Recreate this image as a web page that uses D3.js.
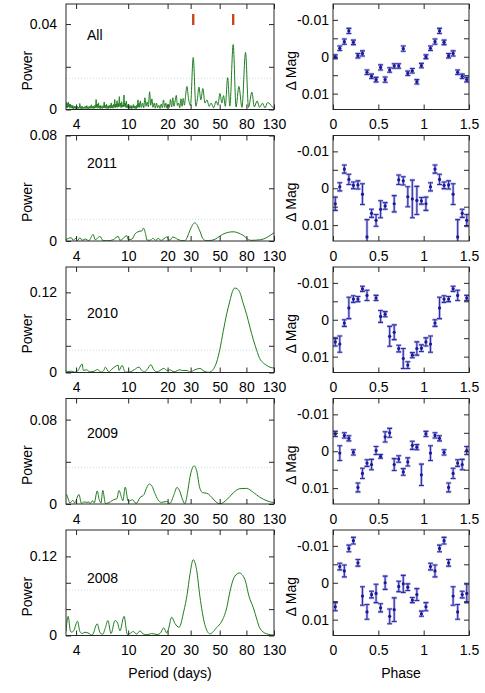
<!DOCTYPE html>
<html>
<head>
<meta charset="utf-8">
<script src="https://cdn.jsdelivr.net/npm/d3@7"></script>
<style>
    body { margin: 0; background: #fff; }
    text { font-family: "Liberation Sans", Arial, Helvetica, sans-serif; fill: #000; }
    .axis text { font-size: 14px; }
</style>
</head>
<body>
<div id="chart"></div>
<script>
// ---- data ----
const rowNames = ['All', '2011', '2010', '2009', '2008'];
const periodTicks = [4, 10, 20, 30, 50, 80, 130];
const phaseTicks = [0, 0.5, 1, 1.5];
const magTicks = [-0.01, -0.005, 0, 0.005, 0.01];
const magLabels = [-0.01, 0, 0.01];
const powerTicks = [[0, 0.02, 0.04], [0, 0.04, 0.08], [0, 0.04, 0.08, 0.12], [0, 0.04, 0.08], [0, 0.04, 0.08, 0.12]];
const powerLabels = [[0, 0.04], [0, 0.08], [0, 0.12], [0, 0.08], [0, 0.12]];
const powerMax = [0.0494, 0.08, 0.158, 0.1, 0.16];
const falseAlarm = [0.0146, 0.0164, 0.0335, 0.0347, 0.069];
const markedPeriods = [31.4, 63.4];

// periodograms: period (days) / power
const allPeriod = [3.35, 3.38, 3.42, 3.45, 3.49, 3.52, 3.56, 3.59, 3.63, 3.67, 3.71, 3.74, 3.78, 3.82, 3.86, 3.90,
    3.94, 3.98, 4.02, 4.06, 4.10, 4.14, 4.19, 4.23, 4.27, 4.32, 4.36, 4.40, 4.45, 4.49, 4.54, 4.59, 4.64, 4.68, 4.73,
    4.78, 4.83, 4.88, 4.93, 4.98, 5.03, 5.08, 5.14, 5.19, 5.24, 5.29, 5.35, 5.40, 5.46, 5.51, 5.57, 5.63, 5.69, 5.75,
    5.81, 5.87, 5.93, 5.99, 6.05, 6.11, 6.17, 6.24, 6.30, 6.37, 6.43, 6.50, 6.56, 6.63, 6.70, 6.77, 6.84, 6.91, 6.98,
    7.05, 7.12, 7.20, 7.27, 7.35, 7.42, 7.50, 7.57, 7.65, 7.73, 7.81, 7.89, 7.97, 8.05, 8.13, 8.22, 8.30, 8.39, 8.47,
    8.56, 8.65, 8.74, 8.83, 8.92, 9.01, 9.10, 9.20, 9.29, 9.39, 9.48, 9.58, 9.68, 9.78, 9.88, 9.98, 10.08, 10.18,
    10.29, 10.4, 10.5, 10.61, 10.72, 10.83, 10.94, 11.05, 11.17, 11.28, 11.4, 11.52, 11.63, 11.75, 11.87, 12.0, 12.12,
    12.25, 12.37, 12.62, 12.88, 13.15, 13.42, 13.7, 13.98, 14.27, 14.57, 14.87, 15.17, 15.49, 15.81, 16.13, 16.47,
    16.8, 17.15, 17.5, 17.87, 18.24, 18.61, 19.0, 19.39, 19.79, 20.2, 20.62, 21.04, 21.48, 21.92, 22.37, 22.84, 23.31,
    23.79, 24.28, 24.78, 25.3, 25.8, 26.3, 26.9, 27.4,
    28.1, 28.9, 29.9, 31.4, 32.9, 33.8, 34.7, 35.9, 37.2, 38.6, 40.0, 41.5, 43, 45, 47, 48.5, 50.2, 52, 53.5, 55.2,
    57.5, 59.8, 63.4, 66.7, 70.1, 74, 78.8, 83, 88.1, 92, 96.5, 101, 106, 111, 116, 121, 126, 130];
const allPower = [0.0036, 0.0010, 0.0030, 0.0008, 0.0034, 0.0012, 0.0026, 0.0006, 0.0024, 0.0008, 0.0020, 0.0005,
    0.0018, 0.0004, 0.0016, 0.0006, 0.0015, 0.0003, 0.0013, 0.0005, 0.0014, 0.0004, 0.0012, 0.0006, 0.0028, 0.0005,
    0.0014, 0.0003, 0.0016, 0.0005, 0.0011, 0.0004, 0.0013, 0.0006, 0.0015, 0.0004, 0.0018, 0.0005, 0.0012, 0.0003,
    0.0014, 0.0006, 0.0017, 0.0005, 0.0022, 0.0007, 0.0015, 0.0004, 0.0016, 0.0006, 0.0020, 0.0008, 0.0047, 0.0009,
    0.0026, 0.0006, 0.0031, 0.0007, 0.0017, 0.0004, 0.0019, 0.0006, 0.0014, 0.0005, 0.0018, 0.0008, 0.0035, 0.0007,
    0.0020, 0.0005, 0.0024, 0.0006, 0.0015, 0.0004, 0.0018, 0.0007, 0.0021, 0.0006, 0.0031, 0.0008, 0.0019, 0.0006,
    0.0024, 0.0010, 0.0047, 0.0009, 0.0026, 0.0011, 0.0041, 0.0010, 0.0028, 0.0012, 0.0060, 0.0014, 0.0030, 0.0009,
    0.0036, 0.0011, 0.0022, 0.0013, 0.0068, 0.0015, 0.0030, 0.0010, 0.0040, 0.0008, 0.0022, 0.0006, 0.0025, 0.0005,
    0.0016, 0.0006, 0.0019, 0.0004, 0.0015, 0.0006, 0.0023, 0.0007, 0.0017, 0.0005, 0.0016, 0.0004, 0.0020, 0.0009,
    0.0045, 0.0011, 0.0030, 0.0010, 0.0040, 0.0010, 0.0030, 0.0008, 0.0055, 0.0015, 0.0035, 0.0012, 0.0083, 0.0020,
    0.0050, 0.0010, 0.0030, 0.0006, 0.0030, 0.0008, 0.0020, 0.0005, 0.0025, 0.0008, 0.0045, 0.0010, 0.0030, 0.0006,
    0.0025, 0.0010, 0.0047, 0.0012, 0.0055, 0.0015, 0.0040, 0.0066, 0.0018, 0.0030, 0.0008, 0.0050, 0.0015, 0.0052,
    0.0020, 0.0060,
    0.0108, 0.0050, 0.0018, 0.0243, 0.0015, 0.0050, 0.0105, 0.0045, 0.0098, 0.0030, 0.0045, 0.0015, 0.0030, 0.0008,
    0.0040, 0.0020, 0.0075, 0.0030, 0.0065, 0.0015, 0.0149, 0.0016, 0.0304, 0.0012, 0.0108, 0.0010, 0.0267, 0.0010,
    0.0081, 0.0012, 0.0040, 0.0010, 0.0030, 0.0008, 0.0032, 0.0026, 0.0012, 0.0005];

const p2011Period = [3.35, 3.67, 3.8, 3.96, 4.1, 4.28, 4.45, 4.7, 5.0, 5.4, 5.6, 5.8, 6.1, 6.4, 7.0, 7.7, 8.4, 8.65,
    9.8, 10.0, 10.7, 11.3, 11.9, 12.3, 12.7, 13.1, 13.6, 13.9, 14.7, 15.4, 16.3, 16.9, 17.9, 19.7, 20.8, 21.9, 24,
    25.6, 27.1, 28.3, 29.6, 32.3, 35.3, 37.1, 39.3, 44.4, 48.2, 52.6, 63.4, 75, 86, 103, 130];
const p2011Power = [0.001, 0.0025, 0.0005, 0.002, 0.0003, 0.0025, 0.0005, 0.0015, 0.0003, 0.005, 0.001, 0.002,
    0.0035, 0.0005, 0.0002, 0.001, 0.0035, 0.0005, 0.004, 0.001, 0.0015, 0.0055, 0.007, 0.0075, 0.0075, 0.0098,
    0.005, 0.0008, 0.0005, 0.002, 0.0005, 0.002, 0.0005, 0.003, 0.0005, 0.003, 0.0012, 0.0003, 0.0002, 0.003, 0.008,
    0.0138, 0.0075, 0.002, 0.0002, 0.0007, 0.0025, 0.005, 0.007, 0.0045, 0.0005, 0.001, 0.0063];

const p2010Period = [3.35, 3.45, 3.67, 3.9, 4.1, 4.45, 4.55, 4.8, 5.1, 5.5, 5.85, 6.2, 6.5, 6.7, 7.1, 7.5, 8.4, 8.5,
    9.0, 9.3, 9.5, 10.3, 11.1, 12.1, 12.6, 13.2, 13.9, 14.9, 15.7, 16.6, 17.5, 18.7, 19.9, 20.8, 22.4, 24.8, 26.1,
    28.2, 29.6, 32.3, 35.3, 38, 40.9, 43, 45.1, 47.4, 50.2, 53.2, 56.6, 59.8, 62.5, 65.3, 68.4, 71.3, 75.2, 80.3,
    85.1, 90.4, 96, 101, 107.6, 114, 121, 130];
const p2010Power = [0.003, 0.0015, 0.002, 0.0005, 0.002, 0.0127, 0.003, 0.004, 0.001, 0.002, 0.0045, 0.0005, 0.003,
    0.0081, 0.001, 0.005, 0.0107, 0.003, 0.0107, 0.004, 0.0005, 0.0008, 0.004, 0.0081, 0.004, 0.001, 0.004, 0.0117,
    0.004, 0.001, 0.003, 0.0061, 0.003, 0.004, 0.001, 0.004, 0.003, 0.003, 0.0005, 0.004, 0.0061, 0.002, 0.0003,
    0.0015, 0.006, 0.0157, 0.035, 0.0614, 0.088, 0.107, 0.121, 0.1265, 0.125, 0.12, 0.105, 0.087, 0.068, 0.049,
    0.033, 0.021, 0.0145, 0.0107, 0.008, 0.0066];

const p2009Period = [3.39, 3.5, 3.59, 3.78, 3.9, 4.2, 4.4, 4.6, 4.85, 5.0, 5.1, 5.35, 5.5, 5.8, 6.0, 6.2, 6.4, 6.7,
    7.3, 7.7, 8.2, 8.5, 8.9, 9.1, 9.5, 10.0, 10.8, 11.5, 12.3, 13.2, 13.8, 14.5, 15.2, 15.9, 16.9, 17.9, 19.7, 20.8,
    22.4, 23.6, 24.8, 25.9, 27.1, 28.5, 29.6, 31.9, 33.6, 35, 37.1, 38.6, 40.9, 43.7, 46.8, 50.2, 56.6, 63.4, 71.3,
    80.3, 90.4, 101, 115, 130];
const p2009Power = [0.0091, 0.004, 0.001, 0.0035, 0.001, 0.0091, 0.0005, 0.002, 0.0015, 0.002, 0.0005, 0.003, 0.001,
    0.0123, 0.0045, 0.001, 0.0129, 0.0005, 0.002, 0.004, 0.005, 0.0129, 0.006, 0.003, 0.016, 0.0025, 0.004, 0.0005,
    0.006, 0.009, 0.015, 0.0189, 0.017, 0.011, 0.004, 0.0015, 0.0025, 0.0005, 0.009, 0.0157, 0.012, 0.005, 0.0002,
    0.012, 0.025, 0.0362, 0.03, 0.0165, 0.0107, 0.0105, 0.0095, 0.006, 0.002, 0.0002, 0.004, 0.0105, 0.0145, 0.0148,
    0.011, 0.0065, 0.003, 0.0012];

const p2008Period = [3.35, 3.48, 3.62, 3.7, 3.85, 4.1, 4.28, 4.45, 4.68, 5.04, 5.3, 5.8, 6.1, 6.4, 6.7, 7.0, 7.4,
    7.93, 8.3, 8.65, 9.3, 9.86, 10.3, 10.96, 11.6, 12.3, 12.9, 13.9, 15.1, 16.6, 17.5, 18.7, 19.7, 20.2, 21.5, 22.8,
    24.5, 26.6, 28.2, 29.6, 31.4, 33.3, 35.3, 38.5, 42.1, 47.4, 51.9, 56.6, 59.8, 63.4, 67.3, 70.4, 77.9, 83.6, 90.4,
    96, 101, 114, 130];
const p2008Power = [0.0066, 0.029, 0.0066, 0.005, 0.008, 0.0217, 0.006, 0.003, 0.005, 0.003, 0.0005, 0.0177, 0.004,
    0.002, 0.012, 0.0227, 0.003, 0.0227, 0.019, 0.007, 0.029, 0.0015, 0.003, 0.006, 0.002, 0.007, 0.003, 0.001, 0.003,
    0.0015, 0.003, 0.0116, 0.004, 0.008, 0.0277, 0.018, 0.0126, 0.0368, 0.062, 0.092, 0.115, 0.1, 0.0595, 0.0166,
    0.0026, 0.012, 0.0217, 0.042, 0.066, 0.0847, 0.093, 0.0948, 0.085, 0.06, 0.042, 0.025, 0.0116, 0.0026, 0.0006];

// phase-folded light curves: 20 bins per cycle, null = empty bin
const phaseBins = [0.025, 0.075, 0.125, 0.175, 0.225, 0.275, 0.325, 0.375, 0.425, 0.475,
    0.525, 0.575, 0.625, 0.675, 0.725, 0.775, 0.825, 0.875, 0.925, 0.975];
const magAll = [0.0, -0.0023, -0.0041, -0.0070, -0.0039, -0.0003, -0.0009, 0.0042, 0.0053, 0.0062,
    0.0029, 0.0062, 0.0036, 0.0025, 0.0025, -0.0022, 0.0045, 0.0038, 0.0068, 0.0024];
const errAll = [0.0005, 0.0006, 0.0007, 0.0007, 0.0006, 0.0006, 0.0007, 0.0006, 0.0006, 0.0006,
    0.0007, 0.0007, 0.0006, 0.0006, 0.0006, 0.0007, 0.0006, 0.0006, 0.0006, 0.0006];
const mag2011 = [0.0042, -0.0004, -0.0052, -0.0024, -0.0008, -0.0009, 0.0016, 0.0132, 0.0068, 0.0087,
    0.0057, 0.0048, null, 0.0042, -0.0023, -0.0020, 0.0023, 0.0029, 0.0033, 0.0034];
const err2011 = [0.0018, 0.0011, 0.0011, 0.0014, 0.0009, 0.0011, 0.0028, 0.0047, 0.0011, 0.0016,
    0.0023, 0.0009, null, 0.0022, 0.0013, 0.0011, 0.0027, 0.0051, 0.0038, 0.0009];
const mag2010 = [0.0060, 0.0066, 0.0009, -0.0032, -0.0056, -0.0056, -0.0084, -0.0066, null, -0.0059,
    -0.0009, -0.0015, 0.0045, 0.0034, 0.0078, 0.0105, 0.0123, 0.0096, 0.0078, 0.0077];
const err2010 = [0.0011, 0.0022, 0.0009, 0.0029, 0.0009, 0.0007, 0.0007, 0.0014, null, 0.0007,
    0.0016, 0.0007, 0.0027, 0.0020, 0.0009, 0.0027, 0.0009, 0.0007, 0.0018, 0.0009];
const mag2009 = [-0.0047, 0.0005, -0.0043, -0.0035, 0.0003, 0.0098, 0.0060, 0.0032, 0.0036, -0.0002,
    0.0014, -0.0039, -0.0050, 0.0036, 0.0021, 0.0056, 0.0029, -0.0016, -0.0011, 0.0064];
const err2009 = [0.0007, 0.0020, 0.0007, 0.0007, 0.0007, 0.0012, 0.0014, 0.0009, 0.0014, 0.0011,
    0.0005, 0.0014, 0.0012, 0.0016, 0.0009, 0.0009, 0.0011, 0.0011, 0.0007, 0.0029];
const mag2008 = [0.0065, -0.0044, -0.0032, -0.0093, -0.0114, -0.0054, 0.0036, 0.0079, 0.0032, 0.0029,
    0.0068, 0.0000, 0.0091, 0.0073, 0.0010, 0.0003, 0.0012, 0.0047, 0.0032, 0.0084];
const err2008 = [0.0011, 0.0009, 0.0016, 0.0009, 0.0009, 0.0009, 0.0025, 0.0020, 0.0009, 0.0025,
    0.0011, 0.0018, 0.0020, 0.0032, 0.0014, 0.0023, 0.0009, 0.0007, 0.0016, 0.0007];

const periods = [allPeriod, p2011Period, p2010Period, p2009Period, p2008Period];
const powers = [allPower, p2011Power, p2010Power, p2009Power, p2008Power];
const mags = [magAll, mag2011, mag2010, mag2009, mag2008];
const errs = [errAll, err2011, err2010, err2009, err2008];

// ---- layout ----
const W = 485, H = 693;
const LEFT_X = [66, 274];
const RIGHT_X = [333, 469];
const ROW_H = 105.5;
const ROW_STEP = 131.5;
const LABEL_DY = [36, 32, 51, 39, 53]; // row label baseline below panel top
const CURVE_COLOR = '#1f7d1f';
const PT_COLOR = '#1a1a96';
const BAR_COLOR = '#2e2ea6';
const HALO_COLOR = '#b4b4e8';
const MARK_COLOR = '#c8461a';
const FRAME_COLOR = '#262626';

const svg = d3.select('#chart')
    .append('svg')
    .attr('width', W)
    .attr('height', H);

const xPeriod = d3.scaleLog().domain([3.35, 130]).range(LEFT_X);
const xPhase = d3.scaleLinear().domain([0, 1.5]).range(RIGHT_X);

function styleAxis(g) {
    g.select('.domain').remove();
    g.attr('font-family', null).attr('font-size', null).attr('color', FRAME_COLOR);
}

// error bar with caps, drawn twice: soft halo then solid stroke
function drawBars(sel, x, y, color, width) {
    sel.append('line')
        .attr('x1', d => x(d.ph)).attr('x2', d => x(d.ph))
        .attr('y1', d => y(d.m - d.e)).attr('y2', d => y(d.m + d.e))
        .attr('stroke', color).attr('stroke-width', width);
    [-1, 1].forEach((s) => {
        sel.append('line')
            .attr('x1', d => x(d.ph) - 2.5).attr('x2', d => x(d.ph) + 2.5)
            .attr('y1', d => y(d.m + s * d.e)).attr('y2', d => y(d.m + s * d.e))
            .attr('stroke', color).attr('stroke-width', width);
    });
}

rowNames.forEach((name, i) => {
    const top = 4 + i * ROW_STEP;
    const bottom = top + ROW_H;
    const g = svg.append('g');

    // ---------- periodogram ----------
    const yPow = d3.scaleLinear().domain([0, powerMax[i]]).range([bottom, top]);

    g.append('clipPath').attr('id', `clipL${i}`)
        .append('rect')
        .attr('x', LEFT_X[0]).attr('y', top)
        .attr('width', LEFT_X[1] - LEFT_X[0]).attr('height', ROW_H);

    g.append('line')
        .attr('x1', LEFT_X[0]).attr('x2', LEFT_X[1])
        .attr('y1', yPow(falseAlarm[i])).attr('y2', yPow(falseAlarm[i]))
        .attr('stroke', '#c2e2e2')
        .attr('stroke-width', 1)
        .attr('stroke-dasharray', '1,2');

    const line = d3.line()
        .x(d => xPeriod(d[0]))
        .y(d => yPow(d[1]))
        .curve(d3.curveMonotoneX);

    g.append('path')
        .datum(d3.zip(periods[i], powers[i]))
        .attr('clip-path', `url(#clipL${i})`)
        .attr('d', line)
        .attr('fill', 'none')
        .attr('stroke', CURVE_COLOR)
        .attr('stroke-width', 1);

    if (i === 0) {
        g.selectAll('.mark')
            .data(markedPeriods)
            .enter()
            .append('line')
            .attr('x1', d => xPeriod(d)).attr('x2', d => xPeriod(d))
            .attr('y1', top + 10).attr('y2', top + 21)
            .attr('stroke', MARK_COLOR)
            .attr('stroke-width', 2.4);
    }

    g.append('g').attr('class', 'axis')
        .attr('transform', `translate(0,${bottom})`)
        .call(d3.axisBottom(xPeriod).tickValues(periodTicks).tickFormat(d => String(d))
            .tickSize(-5).tickPadding(10))
        .call(styleAxis);
    g.append('g').attr('class', 'axis')
        .attr('transform', `translate(0,${top})`)
        .call(d3.axisTop(xPeriod).tickValues(periodTicks).tickFormat('').tickSize(-5))
        .call(styleAxis);
    g.append('g').attr('class', 'axis')
        .attr('transform', `translate(${LEFT_X[0]},0)`)
        .call(d3.axisLeft(yPow).tickValues(powerTicks[i])
            .tickFormat(d => (powerLabels[i].includes(d) ? String(d) : ''))
            .tickSize(-5).tickPadding(9))
        .call(styleAxis);
    g.append('g').attr('class', 'axis')
        .attr('transform', `translate(${LEFT_X[1]},0)`)
        .call(d3.axisRight(yPow).tickValues(powerTicks[i]).tickFormat('').tickSize(-5))
        .call(styleAxis);

    g.append('rect')
        .attr('x', LEFT_X[0]).attr('y', top)
        .attr('width', LEFT_X[1] - LEFT_X[0]).attr('height', ROW_H)
        .attr('fill', 'none')
        .attr('stroke', FRAME_COLOR);

    g.append('text')
        .attr('x', 87).attr('y', top + LABEL_DY[i])
        .attr('font-size', 14)
        .text(name);

    g.append('text')
        .attr('transform', `translate(32,${(top + bottom) / 2 + 14}) rotate(-90)`)
        .attr('text-anchor', 'middle')
        .attr('font-size', 14)
        .text('Power');

    // ---------- phase curve ----------
    const yMag = d3.scaleLinear().domain([-0.0143, 0.0143]).range([top, bottom]);

    g.append('clipPath').attr('id', `clipR${i}`)
        .append('rect')
        .attr('x', RIGHT_X[0]).attr('y', top)
        .attr('width', RIGHT_X[1] - RIGHT_X[0]).attr('height', ROW_H);

    const pts = [];
    phaseBins.forEach((ph, k) => {
        if (mags[i][k] === null) return;
        pts.push({ ph, m: mags[i][k], e: errs[i][k] });
        if (ph + 1 <= 1.5) pts.push({ ph: ph + 1, m: mags[i][k], e: errs[i][k] });
    });

    const pg = g.append('g').attr('clip-path', `url(#clipR${i})`);
    const bar = pg.selectAll('.pt')
        .data(pts)
        .enter()
        .append('g')
        .attr('class', 'pt');
    drawBars(bar, xPhase, yMag, HALO_COLOR, 2.6);
    drawBars(bar, xPhase, yMag, BAR_COLOR, 1.1);
    bar.append('circle')
        .attr('cx', d => xPhase(d.ph)).attr('cy', d => yMag(d.m))
        .attr('r', 1.6)
        .attr('fill', PT_COLOR);

    g.append('g').attr('class', 'axis')
        .attr('transform', `translate(0,${bottom})`)
        .call(d3.axisBottom(xPhase).tickValues(phaseTicks).tickFormat(d => String(d))
            .tickSize(-5).tickPadding(10))
        .call(styleAxis);
    g.append('g').attr('class', 'axis')
        .attr('transform', `translate(0,${top})`)
        .call(d3.axisTop(xPhase).tickValues(phaseTicks).tickFormat('').tickSize(-5))
        .call(styleAxis);
    g.append('g').attr('class', 'axis')
        .attr('transform', `translate(${RIGHT_X[0]},0)`)
        .call(d3.axisLeft(yMag).tickValues(magTicks)
            .tickFormat(d => (magLabels.includes(d) ? String(d) : ''))
            .tickSize(-5).tickPadding(4))
        .call(styleAxis);
    g.append('g').attr('class', 'axis')
        .attr('transform', `translate(${RIGHT_X[1]},0)`)
        .call(d3.axisRight(yMag).tickValues(magTicks).tickFormat('').tickSize(-5))
        .call(styleAxis);

    g.append('rect')
        .attr('x', RIGHT_X[0]).attr('y', top)
        .attr('width', RIGHT_X[1] - RIGHT_X[0]).attr('height', ROW_H)
        .attr('fill', 'none')
        .attr('stroke', FRAME_COLOR);

    g.append('text')
        .attr('transform', `translate(296,${(top + bottom) / 2 + 14}) rotate(-90)`)
        .attr('text-anchor', 'middle')
        .attr('font-size', 14)
        .text('Δ Mag');
});

// bottom axis titles
svg.append('text')
    .attr('x', (LEFT_X[0] + LEFT_X[1]) / 2).attr('y', 678)
    .attr('text-anchor', 'middle')
    .attr('font-size', 14)
    .text('Period (days)');
svg.append('text')
    .attr('x', (RIGHT_X[0] + RIGHT_X[1]) / 2).attr('y', 678)
    .attr('text-anchor', 'middle')
    .attr('font-size', 14)
    .text('Phase');
</script>
</body>
</html>
